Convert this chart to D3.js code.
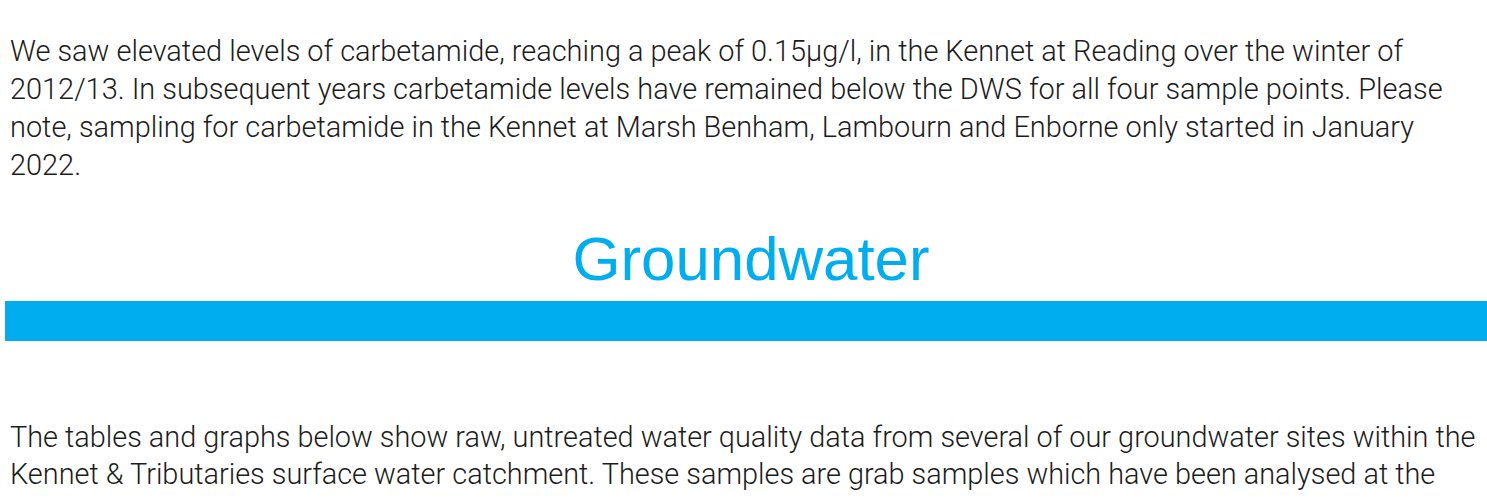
<!DOCTYPE html>
<html>
<head>
<meta charset="utf-8">
<script src="https://cdn.jsdelivr.net/npm/d3@7"></script>
<style>
  html, body { margin: 0; padding: 0; background: #fff; }
</style>
</head>
<body>
<div id="page"></div>
<script>
// text content of the page
const introLines = [
  "We saw elevated levels of carbetamide, reaching a peak of 0.15\u00b5g/l, in the Kennet at Reading over the winter of",
  "2012/13. In subsequent years carbetamide levels have remained below the DWS for all four sample points. Please",
  "note, sampling for carbetamide in the Kennet at Marsh Benham, Lambourn and Enborne only started in January",
  "2022."
]
const heading = ["Groundwater"]
const outroLines = [
  "The tables and graphs below show raw, untreated water quality data from several of our groundwater sites within the",
  "Kennet & Tributaries surface water catchment. These samples are grab samples which have been analysed at the"
]

const W = 1487, H = 502
const blue = '#00aeef'
const ink = '#1c1c1c'

let svg = d3.select('#page')
  .append('svg')
  .attr('width', W)
  .attr('height', H)
  .style('display', 'block')

// baselines step by line index
let introY = d3.scaleLinear().domain([0, 1]).range([61, 99])
let outroY = d3.scaleLinear().domain([0, 1]).range([447, 484])

function paragraph(lines, yScale, fitWidth) {
  let g = svg.append('g')
  let t = g.selectAll('text')
    .data(lines)
    .enter()
    .append('text')
    .attr('x', 10)
    .attr('y', (d, i) => yScale(i))
    .attr('fill', ink)
    .style('font-family', 'Roboto, "Liberation Sans", sans-serif')
    .style('font-weight', 300)
    .style('font-size', '27px')
    .text(d => d)
  // scale font so the longest line matches the reference width
  let longest = 0
  t.each(function () { longest = Math.max(longest, this.getComputedTextLength()) })
  t.style('font-size', (27 * fitWidth / longest) + 'px')
}

paragraph(introLines, introY, 1433)
paragraph(outroLines, outroY, 1466)

// heading
let head = svg.selectAll('text.head')
  .data(heading)
  .enter()
  .append('text')
  .attr('class', 'head')
  .attr('x', 751)
  .attr('y', 280)
  .attr('text-anchor', 'middle')
  .attr('fill', blue)
  .style('font-family', '"Liberation Sans", Arial, sans-serif')
  .style('font-size', '53px')
  .text(d => d)

let hw = head.node().getComputedTextLength()
head.style('font-size', (53 * 357 / hw) + 'px')

// blue band under heading
let xBand = d3.scaleLinear().domain([0, 1]).range([5, W])
svg.append('rect')
  .attr('x', xBand(0))
  .attr('y', 301)
  .attr('width', xBand(1) - xBand(0))
  .attr('height', 40)
  .attr('fill', blue)
</script>
</body>
</html>
